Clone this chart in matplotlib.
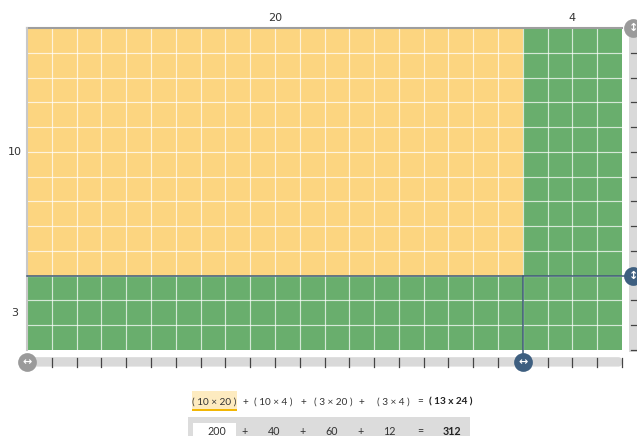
import matplotlib
matplotlib.use("Agg")
import matplotlib.pyplot as plt
from matplotlib.patches import Rectangle, FancyBboxPatch

# ---- data ----
row_parts = [10, 3]
col_parts = [20, 4]
part_colors = [["#FCD580", "#69AE6D"], ["#69AE6D", "#69AE6D"]]
terms = ["( 10 × 20 )", "( 10 × 4 )", "( 3 × 20 )", "( 3 × 4 )"]
products = [200, 40, 60, 12]
total_label = "( 13 x 24 )"
total_value = 312

W, H = 637, 436
fig = plt.figure(figsize=(W / 100, H / 100), dpi=100)
fig.patch.set_facecolor("white")

x0, x1, y0, y1 = 27, 622, 28, 350
ax = fig.add_axes([x0 / W, 1 - y1 / H, (x1 - x0) / W, (y1 - y0) / H])
ncol = sum(col_parts)
nrow = sum(row_parts)
ax.set_xlim(0, ncol)
ax.set_ylim(nrow, 0)
ax.axis("off")

# rectangles
ys = 0
for i, r in enumerate(row_parts):
    xs = 0
    for j, c in enumerate(col_parts):
        ax.add_patch(Rectangle((xs, ys), c, r, facecolor=part_colors[i][j],
                               edgecolor="none", zorder=1))
        xs += c
    ys += r

# grid lines
for k in range(1, ncol):
    ax.plot([k, k], [0, nrow], color="white", lw=0.85, alpha=0.72, zorder=2)
for k in range(1, nrow):
    ax.plot([0, ncol], [k, k], color="white", lw=0.85, alpha=0.72, zorder=2)

# outer edges
ax.plot([0, ncol], [0, 0], color="#9e9e9e", lw=1.5, zorder=3, clip_on=False)
ax.plot([0, 0], [0, nrow], color="#c8c8c8", lw=1.5, zorder=3, clip_on=False)

# split lines
split_x = col_parts[0]
split_y = row_parts[0]
slider_y = nrow + 0.48
slider_x = ncol + 0.45
line_c = "#3E5A78"
ax.plot([0, slider_x], [split_y, split_y], color=line_c, lw=1.1, zorder=4, clip_on=False)
ax.plot([split_x, split_x], [split_y, slider_y], color=line_c, lw=1.1, zorder=4, clip_on=False)

# bottom slider bar
bar_h = 0.38
ax.add_patch(FancyBboxPatch((0, slider_y - bar_h / 2), ncol, bar_h,
                            boxstyle="round,pad=0,rounding_size=0.15",
                            facecolor="#d9d9d9", edgecolor="none",
                            clip_on=False, zorder=2))
for k in range(1, ncol + 1):
    ax.plot([k, k], [slider_y - 0.14, slider_y + 0.19], color="#444444",
            lw=0.9, clip_on=False, zorder=3)

# right slider bar
bar_w = 0.36
ax.add_patch(Rectangle((slider_x - bar_w / 2, 0), bar_w * 2, nrow + 0.1,
                       facecolor="#d9d9d9", edgecolor="none",
                       clip_on=False, zorder=2))
for k in range(1, nrow + 1):
    ax.plot([slider_x - 0.08, slider_x + 0.5], [k, k], color="#444444",
            lw=0.9, clip_on=False, zorder=3)

# handles
def handle(x, y, color, sym):
    ax.plot([x], [y], marker="o", ms=13.5, color=color, mec="none",
            clip_on=False, zorder=6)
    ax.text(x, y, sym, color="white", fontsize=8, ha="center",
            va="center", zorder=7, clip_on=False, fontweight="bold")

handle(0, slider_y, "#9a9a9a", "↔")
handle(split_x, slider_y, "#3E5F80", "↔")
handle(slider_x, 0, "#9a9a9a", "↕")
handle(slider_x, split_y, "#3E5F80", "↕")

# dimension labels
lab_c = "#333333"
xs = 0
for c in col_parts:
    ax.text(xs + c / 2, -0.42, str(c), ha="center", va="center",
            fontsize=8, color=lab_c, clip_on=False)
    xs += c
ys = 0
for r in row_parts:
    ax.text(-0.48, ys + r / 2, str(r), ha="center", va="center",
            fontsize=8, color=lab_c, clip_on=False)
    ys += r

# equation rows
term_x = [214, 273, 333, 393]
val_x = [217, 274, 332, 389]
plus_x = [245, 303, 361]
eq_x = 420
tot_x = 451
ey = 402
vy = 431
fs = 7.2
fam = "Lato"

# highlight first term
fig.patches.append(Rectangle((192 / W, 1 - 409 / H), 45 / W, 18 / H,
                             transform=fig.transFigure, facecolor="#FDEBC0",
                             edgecolor="none", zorder=0))
fig.patches.append(Rectangle((192 / W, 1 - 411 / H), 45 / W, 2 / H,
                             transform=fig.transFigure, facecolor="#F2B705",
                             edgecolor="none", zorder=1))
# grey box for values
fig.patches.append(Rectangle((188 / W, 0), 282 / W, (H - 417) / H,
                             transform=fig.transFigure, facecolor="#DCDCDC",
                             edgecolor="none", zorder=0))
fig.patches.append(Rectangle((193 / W, 0), 43 / W, (H - 423) / H,
                             transform=fig.transFigure, facecolor="white",
                             edgecolor="none", zorder=1))

def t(x, y, s, **kw):
    fig.text(x / W, 1 - y / H, s, ha="center", va="center", fontsize=kw.pop("fontsize", fs),
             color=kw.pop("color", lab_c), family=fam, **kw)

for s, x in zip(terms, term_x):
    t(x, ey, s)
for p, x in zip(products, val_x):
    t(x, vy, str(p), fontsize=fs + 0.5)
for x in plus_x:
    t(x, ey, "+")
    t(x, vy, "+", fontsize=fs + 0.5)
t(eq_x, ey, "=")
t(eq_x, vy, "=", fontsize=fs + 0.5)
t(tot_x, ey, total_label, color="#222222", fontweight="bold")
t(452, vy, str(total_value), fontsize=fs + 0.5, color="#222222", fontweight="bold")

fig.savefig("out.png", dpi=100, facecolor="white")
